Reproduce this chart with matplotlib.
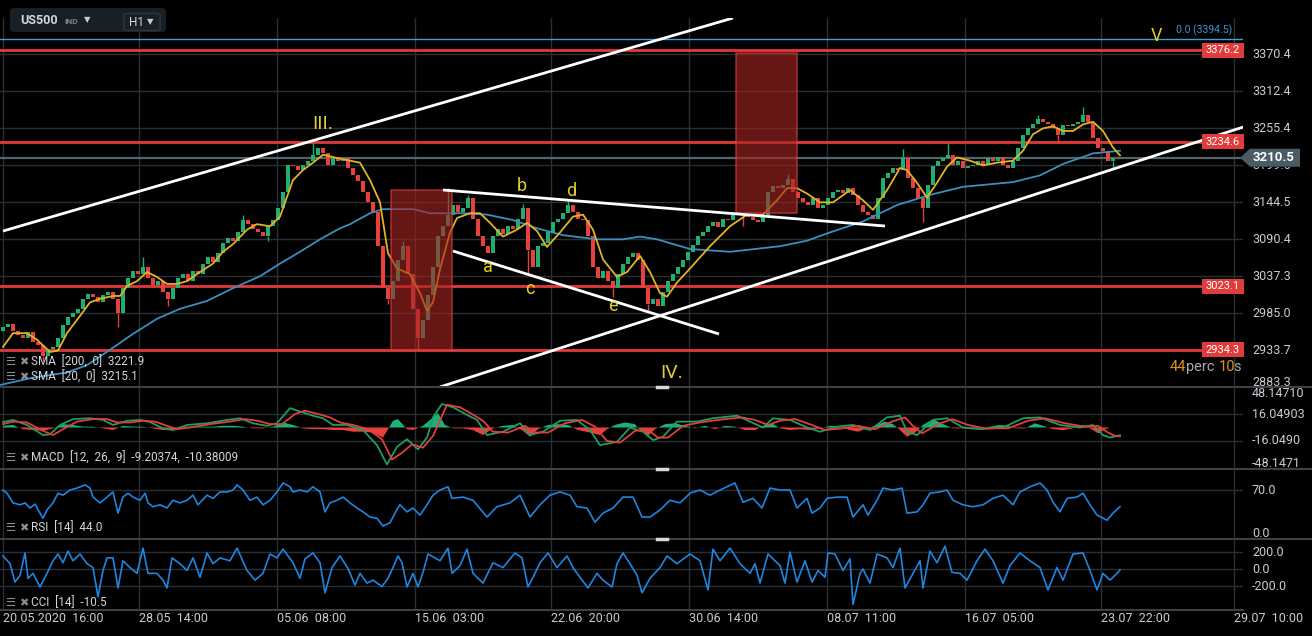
import numpy as np
import matplotlib
matplotlib.use('Agg')
import matplotlib.pyplot as plt
from matplotlib.patches import Rectangle, Polygon, FancyBboxPatch
from matplotlib.ticker import NullLocator
from matplotlib.transforms import Bbox

plt.rcParams['font.family'] = ['Roboto', 'DejaVu Sans']

W, H = 1312, 636

# ---------------- DATA ----------------
# hourly time axis (hours from the chart start), candles every 5 hours
candle_step = 5
candle_t0 = 3
open0 = 2960
closes = [
    2965, 2970, 2960, 2955, 2950, 2958, 2945, 2940, 2925, 2935,
    2938, 2950, 2968, 2980, 2985, 2990, 3005, 3012, 3008, 3000,
    3010, 3015, 3005, 2985, 3020, 3035, 3045, 3040, 3050, 3035,
    3025, 3030, 3015, 3005, 3020, 3035, 3040, 3030, 3045, 3040,
    3055, 3065, 3058, 3070, 3085, 3092, 3088, 3100, 3118, 3112,
    3105, 3100, 3095, 3110, 3118, 3135, 3160, 3200, 3198, 3192,
    3200, 3205, 3215, 3225, 3218, 3200, 3212, 3205, 3210, 3195,
    3185, 3175, 3160, 3145, 3130, 3080, 3020, 3005, 3030, 3060,
    3080, 3040, 2990, 2950, 2975, 3010, 3050, 3095, 3110, 3125,
    3140, 3130, 3135, 3150, 3120, 3095, 3080, 3070, 3095, 3105,
    3098, 3110, 3105, 3120, 3135, 3075, 3050, 3080, 3085, 3100,
    3115, 3120, 3128, 3140, 3130, 3120, 3118, 3095, 3050, 3035,
    3045, 3030, 3020, 3040, 3055, 3065, 3070, 3060, 3020, 2998,
    3005, 2995, 3015, 3030, 3040, 3050, 3060, 3072, 3082, 3095,
    3100, 3110, 3115, 3108, 3120, 3118, 3130, 3128, 3125, 3122,
    3118, 3115, 3125, 3160, 3168, 3165, 3170, 3178, 3160, 3150,
    3145, 3140, 3150, 3135, 3140, 3150, 3160, 3162, 3158, 3165,
    3155, 3140, 3130, 3125, 3120, 3150, 3180, 3188, 3195, 3192,
    3210, 3180, 3165, 3150, 3135, 3170, 3198, 3205, 3210, 3215,
    3200, 3205, 3195, 3198, 3200, 3205, 3200, 3210, 3205, 3212,
    3200, 3195, 3205, 3225, 3245, 3255, 3262, 3270, 3265, 3262,
    3255, 3245, 3260, 3258, 3262, 3265, 3275, 3265, 3240, 3225,
    3220, 3205, 3210, 3210.5,
]
# notable wicks (hour, extreme price)
wick_lows = [(43, 2918), (118, 2965), (168, 2995), (268, 3088), (388, 2998),
             (418, 2934), (528, 3040), (613, 3008), (648, 2986), (743, 3110),
             (923, 3115), (1058, 3232), (1113, 3195)]
wick_highs = [(143, 3065), (243, 3126), (313, 3233), (403, 3088), (448, 3165),
              (468, 3155), (523, 3142), (568, 3147), (788, 3186), (903, 3224),
              (948, 3233), (1038, 3275), (1083, 3287)]

sma20 = [(3, 2938), (13, 2957), (27, 2957), (37, 2948), (50, 2931), (58, 2933), (67, 2957),
         (80, 2981), (90, 3000), (100, 3005), (113, 3009), (120, 3009), (127, 3023), (137, 3030),
         (147, 3043), (157, 3036), (167, 3026), (177, 3026), (187, 3030), (200, 3043), (213, 3055),
         (223, 3072), (233, 3083), (247, 3104), (257, 3112), (270, 3109), (280, 3123), (287, 3152),
         (293, 3177), (303, 3192), (313, 3203), (323, 3215), (337, 3210), (360, 3203), (370, 3177),
         (380, 3144), (388, 3070), (397, 3048), (410, 3040), (420, 3013), (427, 2988), (433, 3000),
         (440, 3047), (450, 3100), (457, 3121), (470, 3128), (480, 3128), (490, 3114), (503, 3094),
         (517, 3104), (527, 3114), (537, 3102), (547, 3079), (560, 3100), (573, 3123), (583, 3126),
         (593, 3104), (603, 3061), (617, 3036), (627, 3043), (640, 3066), (650, 3043), (660, 3013),
         (667, 3008), (677, 3028), (690, 3048), (710, 3080), (730, 3109), (747, 3126), (763, 3126),
         (777, 3147), (787, 3165), (797, 3165), (807, 3157), (820, 3144), (833, 3144), (850, 3162),
         (863, 3147), (873, 3133), (887, 3162), (900, 3195), (907, 3192), (917, 3173), (927, 3151),
         (937, 3173), (947, 3197), (957, 3211), (970, 3206), (983, 3199), (997, 3203), (1013, 3206),
         (1023, 3221), (1033, 3246), (1043, 3255), (1053, 3258), (1063, 3251), (1073, 3251),
         (1083, 3261), (1093, 3265), (1103, 3251), (1113, 3226), (1120, 3214)]
sma200 = [(0, 2886), (33, 2896), (67, 2903), (87, 2913), (110, 2934), (133, 2956), (157, 2977),
          (180, 2991), (207, 3002), (233, 3020), (260, 3037), (280, 3055), (300, 3072), (320, 3090),
          (340, 3106), (350, 3112), (370, 3128), (383, 3134), (413, 3134), (430, 3128), (463, 3128),
          (487, 3126), (513, 3118), (537, 3106), (563, 3096), (597, 3090), (623, 3090), (640, 3094),
          (657, 3090), (690, 3076), (730, 3072), (780, 3080), (807, 3088), (830, 3100), (863, 3116),
          (897, 3140), (930, 3155), (963, 3167), (1013, 3174), (1040, 3184), (1063, 3201),
          (1093, 3217), (1120, 3221)]

macd_line = [(3, 6.5), (13, 9), (27, 3), (43, -9), (50, -8), (60, 3), (73, 10), (90, 11), (103, 9),
             (113, 3), (127, 8), (140, 9), (150, 6.5), (163, -1), (173, -3), (187, 3), (207, 5),
             (227, 9), (240, 11), (253, 5), (267, 2), (277, 5), (290, 23), (300, 19), (313, 14),
             (323, 11), (333, 3), (347, 3), (363, -3), (377, -21), (387, -44), (397, -23), (407, -14),
             (418, -26), (427, -12), (433, 12), (442, 28), (453, 24), (467, 15), (477, 9), (487, -9),
             (503, -5), (520, 5), (530, -9), (543, -5), (560, 8), (577, 9), (590, -3), (600, -21),
             (617, -17), (630, 0), (643, -5), (653, -15), (663, -11), (677, 7), (697, 7), (713, 11),
             (737, 14), (750, 7), (763, 0), (773, 11), (790, 9), (807, 0), (820, -5), (837, 1),
             (853, 3), (870, -3), (887, 12), (900, 14), (907, -5), (917, -9), (933, 9), (947, 11),
             (963, 0), (980, -2), (1003, 0), (1023, 11), (1040, 12), (1060, 3), (1080, 0), (1093, 3),
             (1103, -9), (1110, -12), (1120, -9.2)]
macd_signal = [(3, 4), (13, 7), (27, 6), (43, -4), (53, -9), (63, -2), (77, 7), (93, 10), (107, 10),
               (117, 6), (130, 6), (143, 8), (155, 7), (167, 2), (177, -2), (190, 0), (210, 4),
               (230, 7), (245, 10), (258, 8), (270, 4), (282, 4), (295, 16), (305, 20), (318, 16),
               (330, 12), (340, 6), (353, 3), (368, -2), (382, -14), (392, -38), (402, -30),
               (412, -20), (423, -24), (433, -10), (447, 27), (460, 24), (472, 16), (483, 8),
               (493, -5), (508, -6), (525, 2), (535, -6), (548, -6), (565, 5), (582, 9), (595, 1),
               (607, -16), (620, -18), (635, -4), (648, -3), (658, -12), (668, -12), (683, 2),
               (700, 6), (718, 9), (742, 12), (755, 9), (768, 3), (780, 8), (795, 10), (812, 3),
               (825, -3), (842, -1), (858, 2), (875, -2), (892, 7), (905, 12), (912, 3), (922, -7),
               (938, 4), (952, 10), (968, 3), (985, -1), (1008, -1), (1028, 8), (1045, 11),
               (1065, 5), (1085, 1), (1098, 2), (1108, -6), (1115, -10), (1120, -10.4)]
macd_hist = [(3, 2), (13, 3), (23, -2), (33, -3), (43, -4), (53, -1), (63, 4), (73, 3), (83, 1),
             (93, 1), (103, -1), (113, -3), (123, 2), (133, 1), (143, 1), (153, -1), (163, -3),
             (173, -3), (183, 1), (193, 1), (203, 1), (213, 1), (223, 2), (233, 2), (243, 1),
             (253, -1), (263, -1), (273, 1), (283, 6), (293, 3), (303, -1), (313, -2), (323, -2),
             (333, -3), (343, -3), (353, -5), (363, -5), (373, -6), (383, -12), (393, 8), (398, 10),
             (407, -2), (413, -3), (423, 2), (433, 12), (438, 17), (445, 3), (453, -1), (463, -1),
             (473, -3), (483, -9), (493, -1), (503, 2), (513, 3), (523, -4), (530, -11), (538, -2),
             (548, 3), (558, 4), (568, 3), (578, -3), (590, -6), (600, -9), (607, -2), (615, 3),
             (625, 6), (635, 4), (640, -3), (648, -10), (655, -2), (665, 4), (675, 5), (685, 2),
             (695, -1), (705, 2), (715, -2), (725, 2), (735, 1), (745, -3), (755, -3), (765, 3),
             (772, 5), (780, -1), (790, -3), (800, -2), (810, -3), (820, -1), (830, 2), (840, 1),
             (850, -3), (858, -5), (865, -2), (875, 2), (885, 7), (893, 4), (900, -3), (907, -11),
             (915, -6), (923, 3), (933, 10), (943, 4), (953, -1), (963, -1), (975, -1), (990, 1),
             (1000, 3), (1008, 2), (1015, -1), (1025, -1), (1035, 5), (1043, 2), (1053, -2),
             (1063, -3), (1073, -1), (1083, 3), (1093, -3), (1098, -7), (1105, -2), (1113, 1),
             (1120, 1)]
rsi = [(3, 70), (7, 65), (13, 50), (20, 47), (25, 50), (30, 42), (35, 48), (40, 34), (43, 26),
       (47, 39), (53, 50), (58, 65), (63, 62), (70, 70), (77, 73), (85, 78), (90, 73), (93, 59),
       (100, 50), (107, 59), (113, 67), (118, 34), (123, 59), (128, 65), (133, 59), (140, 54),
       (145, 65), (148, 50), (153, 44), (160, 47), (167, 42), (173, 54), (180, 50), (187, 54),
       (193, 62), (198, 47), (207, 62), (213, 57), (220, 67), (227, 67), (233, 70), (237, 78),
       (243, 70), (250, 54), (257, 59), (263, 47), (270, 54), (277, 67), (283, 81), (290, 75),
       (293, 67), (300, 70), (307, 67), (313, 75), (320, 67), (325, 36), (330, 50), (337, 54),
       (343, 59), (350, 50), (357, 42), (363, 36), (370, 28), (377, 26), (383, 14), (390, 19),
       (397, 40), (400, 47), (407, 36), (413, 42), (420, 31), (427, 47), (433, 62), (440, 70),
       (448, 75), (452, 57), (463, 59), (473, 54), (487, 28), (497, 44), (510, 50), (520, 62),
       (530, 28), (540, 47), (550, 62), (560, 67), (570, 62), (577, 44), (587, 42), (595, 20),
       (603, 34), (613, 42), (623, 59), (633, 59), (642, 28), (650, 28), (660, 39), (670, 54),
       (680, 50), (690, 65), (700, 70), (710, 62), (720, 70), (735, 81), (743, 51), (753, 57),
       (762, 42), (770, 73), (780, 70), (790, 70), (797, 42), (807, 57), (812, 34), (820, 42),
       (827, 57), (837, 59), (847, 59), (853, 28), (863, 47), (868, 31), (877, 54), (883, 73),
       (893, 70), (902, 73), (907, 34), (917, 36), (923, 47), (930, 65), (940, 67), (947, 70),
       (953, 54), (963, 47), (973, 44), (983, 47), (993, 57), (1003, 62), (1013, 47), (1020, 67),
       (1030, 75), (1040, 81), (1047, 70), (1053, 51), (1060, 36), (1067, 57), (1077, 59),
       (1083, 65), (1090, 47), (1097, 31), (1107, 23), (1113, 34), (1120, 44)]
cci = [(3, 154), (10, 63), (15, -154), (20, -74), (25, 189), (28, -109), (33, -51), (40, -211),
       (47, -51), (53, 97), (58, 177), (63, 74), (68, 211), (73, 97), (80, 177), (87, 63), (93, 17),
       (98, -326), (103, -17), (107, 131), (113, 131), (118, -223), (123, 97), (130, 17),
       (137, -51), (143, 246), (148, -51), (157, -51), (163, -131), (167, -223), (172, 131),
       (180, 63), (187, -17), (193, 131), (200, -97), (207, 189), (213, 63), (220, 131), (230, 97),
       (237, 246), (247, -17), (255, -131), (263, -51), (270, 177), (277, 131), (283, 234),
       (293, 74), (300, -109), (305, 120), (313, 189), (320, 74), (325, -280), (332, 17),
       (340, 154), (348, 6), (355, -189), (360, -51), (367, -166), (373, -131), (382, -206),
       (388, -109), (393, 17), (398, 154), (402, 74), (407, -211), (413, -51), (418, -211),
       (423, -40), (428, 177), (440, 97), (448, 246), (452, -51), (460, 40), (467, 234),
       (473, -51), (483, -166), (493, 74), (503, 17), (515, 189), (522, 131), (528, -211),
       (533, -97), (540, 74), (548, 189), (557, 17), (567, 154), (573, 17), (580, -97),
       (588, -223), (597, -51), (603, -131), (612, -211), (617, 63), (623, 189), (630, 63),
       (637, -74), (642, -280), (650, -109), (660, 17), (667, 154), (677, 63), (690, 177),
       (700, 97), (708, -246), (713, 234), (720, 97), (730, 246), (740, 63), (750, -51),
       (755, 63), (760, -166), (768, 177), (780, 40), (785, -166), (790, 200), (797, -154),
       (805, 97), (812, -154), (818, -17), (825, -97), (828, 189), (835, 177), (843, -17),
       (850, 120), (853, -417), (860, -51), (863, 0), (870, -166), (877, 177), (887, 131),
       (893, 17), (900, 246), (905, -223), (913, -51), (920, 97), (923, -223), (930, 211),
       (937, 74), (945, 269), (952, -40), (960, -51), (967, -131), (977, 97), (985, 234),
       (993, 97), (1003, -166), (1010, 40), (1020, 189), (1030, 97), (1040, 17), (1048, -246),
       (1057, 17), (1063, -131), (1073, 177), (1083, 189), (1090, -17), (1097, -246),
       (1103, -51), (1110, -131), (1117, -51), (1120, -10.5)]

# horizontal levels
fib_level = 3394.5
red_levels = [3376.2, 3234.6, 3023.1, 2934.3]
last_price = 3210.5
# trend lines: (t1, p1, t2, p2)
trend_lines = [(3, 3102.0, 733, 3427.8), (440, 2883.3, 1243, 3256.9),
               (443, 3162.3, 885, 3109.3), (453, 3073.1, 719, 2955.8)]
# boxes: (t_left, t_right, p_low, p_high)
boxes = [(391, 452, 2933.7, 3162.3), (736, 797, 3128.3, 3372.0)]
wave_labels = ["III.", "a", "b", "c", "d", "e", "IV.", "V"]
wave_t = [323, 488, 522, 530, 571, 613, 672, 1157]
wave_p = [3262, 3050, 3168, 3019, 3161, 2995, 2902, 3399]
wave_size = [14, 13, 13, 13, 13, 13, 14, 13]

time_ticks = [3, 139, 277, 415, 551, 689, 827, 965, 1101, 1234]
time_labels = ["20.05.2020  16:00", "28.05  14:00", "05.06  08:00", "15.06  03:00",
               "22.06  20:00", "30.06  14:00", "08.07  11:00", "16.07  05:00",
               "23.07  22:00", "29.07  10:00"]
price_ticks = [3370.4, 3312.4, 3255.4, 3199.5, 3144.5, 3090.4, 3037.3, 2985.0, 2933.7, 2883.3]
macd_ticks = [48.1471, 16.04903, -16.0490, -48.1471]
macd_tick_labels = ["48.14710", "16.04903", "-16.0490", "-48.1471"]
rsi_ticks = [70.0, 0.0]
cci_ticks = [200.0, 0.0, -200.0]

# ---------------- STYLE ----------------
BG = 'black'
GRID = '#2a2f35'
SEP = '#3b4147'
TXT = '#c9cdd1'
GREEN = '#1fb070'
RED = '#e8403c'
LEVEL_RED = '#e2393a'
YEL = '#e3cf2a'
SMA20_C = '#e1b325'
SMA200_C = '#3a8fbe'
IND_BLUE = '#1e86e0'

fig = plt.figure(figsize=(W / 100, H / 100), dpi=100)
fig.patch.set_facecolor(BG)


def pane(y0, y1):
    ax = fig.add_axes([0, 1 - y1 / H, 1243 / W, (y1 - y0) / H])
    ax.set_facecolor(BG)
    for s in ax.spines.values():
        s.set_visible(False)
    ax.set_xlim(0, 1243)
    ax.tick_params(which='both', left=False, bottom=False, right=False,
                   labelleft=False, labelbottom=False)
    for t in time_ticks:
        ax.axvline(t, color=GRID, lw=1, zorder=0)
    return ax


def fpx(x, y):
    return x / W, 1 - y / H


def ylab(ax, v, s, dy=0, **kw):
    yd = ax.transData.transform((0, v))[1] - dy
    return fig.text(1252 / W, yd / H, s, color=TXT, fontsize=9, ha='left', va='center', **kw)


# ---------------- MAIN PANE ----------------
ax = pane(18, 387)
ax.set_yscale('log')
ax.set_ylim(2883.3, 3427.8)
ax.yaxis.set_minor_locator(NullLocator())
ax.set_yticks([])
ax.tick_params(which='both', left=False, right=False, labelleft=False, labelright=False)
for p in price_ticks[:-1]:
    ax.axhline(p, color=GRID, lw=1, zorder=0)

ax.axhline(fib_level, color='#3aa1dc', lw=1, zorder=1)
for lv in red_levels:
    ax.axhline(lv, color=LEVEL_RED, lw=2, zorder=2)
ax.axhline(last_price, color='#55636d', lw=1.6, zorder=2)

c = np.array(closes, dtype=float)
o = np.r_[open0, c[:-1]]
tc = candle_t0 + candle_step * np.arange(len(c))
up = c >= o
for mask, col in ((up, GREEN), (~up, RED)):
    ax.bar(tc[mask], (c - o)[mask], bottom=o[mask], width=3.2, color=col, zorder=3, lw=0)
idx = {int(t): i for i, t in enumerate(tc)}
for t, lo in wick_lows:
    i = idx[t]
    ax.vlines(t, lo, min(o[i], c[i]), color=GREEN if up[i] else RED, lw=1, zorder=3)
for t, hi in wick_highs:
    i = idx[t]
    ax.vlines(t, max(o[i], c[i]), hi, color=GREEN if up[i] else RED, lw=1, zorder=3)

st, sv = zip(*sma200)
ax.plot(st, sv, color=SMA200_C, lw=1.3, zorder=4)
st, sv = zip(*sma20)
ax.plot(st, sv, color=SMA20_C, lw=1.3, zorder=4)

for (tl, tr, pl, ph) in boxes:
    ax.add_patch(Rectangle((tl, pl), tr - tl, ph - pl, facecolor='#a52522', alpha=0.62,
                           edgecolor='#e0413b', lw=1.2, zorder=5))

for (t1, p1, t2, p2) in trend_lines:
    ax.plot([t1, t2], [p1, p2], color='white', lw=2, zorder=6, solid_capstyle='butt')

for s, t, p, fs in zip(wave_labels, wave_t, wave_p, wave_size):
    ax.text(t, p, s, color=YEL, fontsize=fs, ha='center', va='center', zorder=7)

# fib label
yd = ax.transData.transform((0, fib_level))[1]
fig.text(1232 / W, (yd + 3) / H, "0.0 (3394.5)", color='#3a93d2', fontsize=7.5,
         ha='right', va='bottom')

# current price tag position
yd_last = ax.transData.transform((0, last_price))[1]

# price axis labels (the one under the price tag is partly hidden)
for p in price_ticks:
    t = ylab(ax, p, f"{p:.1f}", dy=(-4 if p == 2883.3 else 0))
    if p == 3199.5:
        t.set_clip_box(Bbox([[1245, 0], [W, yd_last - 9]]))
        t.set_clip_on(True)

# red level tags
for lv in red_levels:
    yd = ax.transData.transform((0, lv))[1]
    fig.add_artist(Rectangle((1202 / W, (yd - 7.5) / H), 42 / W, 15 / H,
                             transform=fig.transFigure, facecolor='#e23b3b',
                             edgecolor='none', zorder=5))
    fig.text(1223 / W, yd / H, f"{lv:.1f}", color='white', fontsize=8, ha='center',
             va='center', zorder=6)

# current price tag
yd = yd_last
verts = [(1240, yd), (1250, yd + 9), (1300, yd + 9), (1300, yd - 9), (1250, yd - 9)]
fig.add_artist(Polygon([(x / W, y / H) for x, y in verts], closed=True,
                       transform=fig.transFigure, facecolor='#4b5b66', edgecolor='none',
                       zorder=5))
fig.text(1253 / W, yd / H, f"{last_price:.1f}", color='white', fontsize=9.5,
         fontweight='bold', ha='left', va='center', zorder=6)

# countdown
for x, s, col in ((1170, "44", '#df9220'), (1186, "perc", '#a7abaf'),
                  (1219, "10", '#df9220'), (1233, "s", '#a7abaf')):
    fig.text(*fpx(x, 367), s, color=col, fontsize=10.5, ha='left', va='center')

# ---------------- MACD ----------------
axm = pane(387, 468)
axm.set_ylim(-48.1471, 48.1471)
for v in (16.04903, -16.0490):
    axm.axhline(v, color=GRID, lw=1, zorder=0)
ht, hv = map(np.array, zip(*macd_hist))
axm.fill_between(ht, 0, hv, where=hv >= 0, interpolate=True, color='#1fb07a', lw=0, zorder=2)
axm.fill_between(ht, 0, hv, where=hv <= 0, interpolate=True, color='#e8403a', lw=0, zorder=2)
mt, mv = zip(*macd_line)
axm.plot(mt, mv, color='#1f9d62', lw=1.3, zorder=3)
st, sv = zip(*macd_signal)
axm.plot(st, sv, color='#e0403a', lw=1.3, zorder=3)
for v, s, dy in zip(macd_ticks, macd_tick_labels, (7, 0, 0, -4)):
    ylab(axm, v, s, dy=dy)

# ---------------- RSI ----------------
axr = pane(469, 538)
axr.set_ylim(-4.67, 102.7)
axr.axhline(70, color=GRID, lw=1, zorder=0)
rt, rv = zip(*rsi)
axr.plot(rt, rv, color=IND_BLUE, lw=1.2, zorder=3)
for v in rsi_ticks:
    ylab(axr, v, f"{v:.1f}", dy=(-1 if v == 0 else 0))

# ---------------- CCI ----------------
axc = pane(538, 610)
axc.set_ylim(-482, 365)
for v in cci_ticks:
    axc.axhline(v, color=GRID, lw=1, zorder=0)
ct, cv = zip(*cci)
axc.plot(ct, cv, color=IND_BLUE, lw=1.2, zorder=3)
for v in cci_ticks:
    ylab(axc, v, f"{v:.1f}")

# time labels
for t, s in zip(time_ticks, time_labels):
    xd = axc.transData.transform((t, 0))[0]
    fig.text(xd / W, 1 - 618 / H, s, color=TXT, fontsize=9, ha='left', va='center')

# separators
for y, x1 in ((387, W), (468.5, W), (538.5, W), (610, 1243)):
    fig.add_artist(plt.Line2D([0, x1 / W], [1 - y / H, 1 - y / H], color=SEP, lw=1.5,
                              transform=fig.transFigure, zorder=4))
for y in (387, 468.5, 538.5):
    fig.add_artist(plt.Line2D([657 / W, 667 / W], [1 - y / H, 1 - y / H], color='#d8d8d8',
                              lw=2.5, transform=fig.transFigure, zorder=5))

# legends
legends = [(362, "SMA  [200,  0]  3221.9"), (377, "SMA  [20,  0]  3215.1"),
           (458, "MACD  [12,  26,  9]  -9.20374,  -10.38009"), (528, "RSI  [14]  44.0"),
           (603, "CCI  [14]  -10.5")]
for y, s in legends:
    fig.text(*fpx(5, y), "\u2630", color='#8a8f94', fontsize=8, ha='left', va='center', zorder=7)
    fig.text(*fpx(19, y), "\u2716", color='#8a8f94', fontsize=8, ha='left', va='center', zorder=7)
    fig.text(*fpx(31, y), s, color='#d2d6da', fontsize=8.5, ha='left', va='center', zorder=7)

# header box
fig.add_artist(FancyBboxPatch((10 / W, 1 - 32 / H), 156 / W, 24 / H,
                              boxstyle='round,pad=0,rounding_size=0.004',
                              transform=fig.transFigure, facecolor='#162026',
                              edgecolor='none', zorder=8))
fig.add_artist(FancyBboxPatch((124 / W, 1 - 30.5 / H), 36 / W, 17 / H,
                              boxstyle='round,pad=0,rounding_size=0.003',
                              transform=fig.transFigure, facecolor='#162026',
                              edgecolor='#2c3840', lw=1, zorder=9))
fig.text(*fpx(20, 21), "US500", color='#d3d7da', fontsize=9, fontweight='bold',
         ha='left', va='center', zorder=10)
fig.text(*fpx(64, 21), "IND", color='#7f878d', fontsize=6, fontweight='bold',
         ha='left', va='center', zorder=10)
fig.text(*fpx(84, 20), "\u25BC", color='#c8ccd0', fontsize=6, ha='left', va='center', zorder=10)
fig.text(*fpx(129, 22), "H1", color='#d3d7da', fontsize=8.5, ha='left', va='center', zorder=10)
fig.text(*fpx(147, 22), "\u25BC", color='#c8ccd0', fontsize=6, ha='left', va='center', zorder=10)

fig.savefig('out.png', dpi=100, facecolor=BG)
